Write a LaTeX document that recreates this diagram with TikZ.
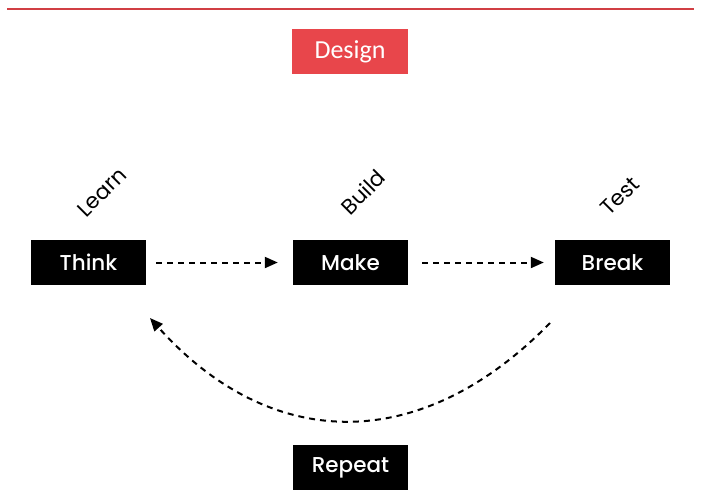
\documentclass[tikz,border=0pt]{standalone}
\usepackage{fontspec}
\setmainfont{Poppins}
\newfontfamily\medfont{Poppins Medium}
\newfontfamily\designfont{Carlito}
\usetikzlibrary{arrows.meta}
\definecolor{dred}{HTML}{E8464B}
\begin{document}
\begin{tikzpicture}[x=1pt,y=-1pt,
  stepbox/.style={draw=none,fill=black,text=white,minimum width=115pt,minimum height=45pt,inner sep=0pt,font=\medfont\fontsize{21.5}{24}\selectfont},
  lbl/.style={rotate=45,font=\fontsize{21.5}{24}\selectfont,inner sep=0pt},
  dasharrow/.style={line width=2pt,dash pattern=on 6pt off 5pt,-{Triangle[length=13pt,width=11pt]}}
]
\useasboundingbox (0,0) rectangle (701,490);
\coordinate (l1) at (7,9);
\coordinate (l2) at (694,9);
\draw[dred!90!black,line width=1.1pt] (l1) -- (l2);
\node[fill=dred,text=white,minimum width=116pt,minimum height=45pt,inner sep=0pt,font=\designfont\fontsize{26}{30}\selectfont] (design) at (350,51.5) {Design};
\node[stepbox] (think) at (88.5,262.5) {Think};
\node[stepbox] (make) at (350.5,262.5) {Make};
\node[stepbox] (break) at (612.5,262.5) {Break};
\node[stepbox] (repeat) at (350.5,467.5) {Repeat};
\node[lbl] (learn) at (102,192) {Learn};
\node[lbl] (build) at (363,192) {Build};
\node[lbl] (test) at (620,196) {Test};
\draw[dasharrow,shorten <=10pt,shorten >=15pt] (think) -- (make);
\draw[dasharrow,shorten <=14pt,shorten >=11pt] (make) -- (break);
\coordinate (cs) at (550,323);
\coordinate (ce) at (150,318);
\draw[dasharrow] (cs) .. controls (420,456) and (270,452) .. (ce);
\end{tikzpicture}
\end{document}
